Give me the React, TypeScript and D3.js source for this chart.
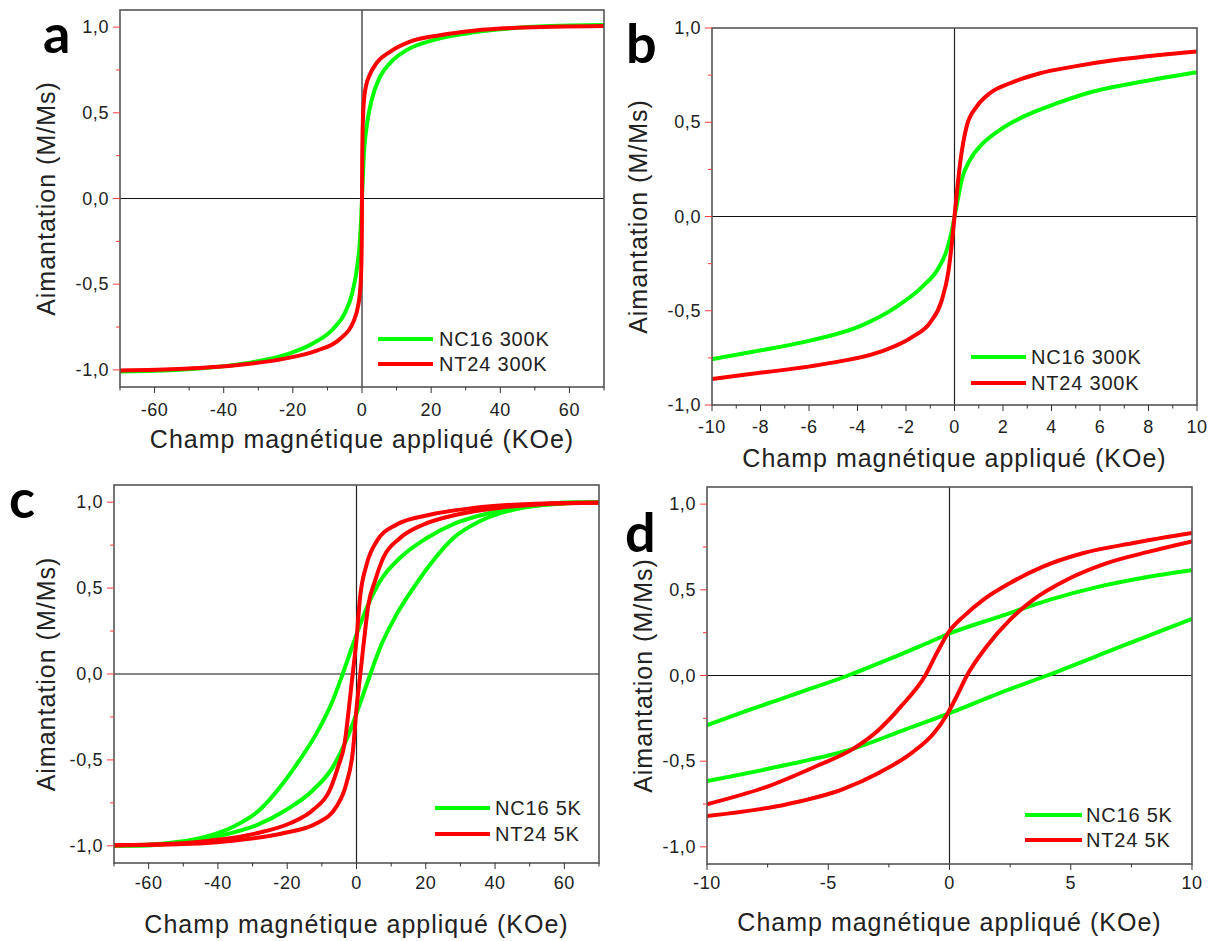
import React from 'react';
import * as d3 from 'd3';

type Pt = [number, number];

// ---------- DATA (H in KOe, M/Ms) ----------
// Panel a : 300K, full range
const aNC16: Pt[] = [
  [-70, -1.01], [-57.5, -1.004], [-44, -0.986], [-32.4, -0.958], [-21.8, -0.91], [-14.1, -0.845],
  [-8.3, -0.76], [-5.0, -0.67], [-2.8, -0.55], [-1.4, -0.4], [-0.58, -0.24], [-0.2, -0.1], [0, 0],
  [0.2, 0.1], [0.5, 0.24], [1.35, 0.42], [2.8, 0.575], [5.2, 0.71], [8.1, 0.79],
  [12.9, 0.866], [20.6, 0.924], [30.3, 0.963], [39.9, 0.987], [54.4, 1.006], [70, 1.012],
];
const aNT24: Pt[] = [
  [-70, -1.004], [-51.7, -0.994], [-37.2, -0.975], [-22.8, -0.936], [-13.1, -0.888], [-6.4, -0.82],
  [-2.5, -0.72], [-1.07, -0.62], [-0.6, -0.55], [-0.25, -0.43], [-0.05, -0.2], [0, 0], [0.05, 0.2],
  [0.25, 0.45], [0.6, 0.58], [1.2, 0.66], [2.2, 0.72], [4.2, 0.79], [8.1, 0.856], [13.9, 0.915],
  [22.6, 0.953], [32.2, 0.979], [44.7, 0.996], [70, 1.006],
];

// Panel b : 300K, zoom -10..10
const bNC16: Pt[] = [
  [-10, -0.757], [-8.42, -0.72], [-6.0, -0.66], [-3.87, -0.58], [-2.35, -0.475], [-1.3, -0.369],
  [-0.69, -0.28], [-0.31, -0.175], [-0.1, -0.07], [0, 0], [0.1, 0.065], [0.3, 0.196], [0.64, 0.3],
  [1.19, 0.39], [1.88, 0.46], [2.84, 0.53], [4.21, 0.6], [5.72, 0.663], [7.37, 0.707], [8.75, 0.739],
  [10, 0.766],
];
const bNT24: Pt[] = [
  [-10, -0.862], [-8.43, -0.836], [-5.39, -0.783], [-3.11, -0.72], [-1.75, -0.64], [-0.99, -0.56],
  [-0.54, -0.45], [-0.25, -0.29], [-0.1, -0.13], [0, 0], [0.1, 0.13], [0.25, 0.3], [0.5, 0.478],
  [0.92, 0.584], [1.46, 0.654], [2.29, 0.707], [3.53, 0.76], [4.9, 0.795], [6.69, 0.831],
  [8.47, 0.857], [10, 0.875],
];

// Panel c : 5K loops, full range (descending branch and ascending branch)
const cNC16Desc: Pt[] = [
  [-70, -1.0], [-54.8, -0.985], [-45.2, -0.956], [-35.6, -0.889], [-27.9, -0.79], [-21.2, -0.636],
  [-16.4, -0.5], [-11.5, -0.344], [-6.75, -0.15], [-4, 0], [-1.4, 0.15], [0, 0.23], [2.9, 0.383],
  [6.75, 0.539], [12.5, 0.675], [20.2, 0.79], [28.8, 0.879], [38.5, 0.937], [50, 0.976],
  [62.5, 0.999], [70, 1.0],
];
const cNC16Asc: Pt[] = [
  [-70, -1.0], [-62.5, -0.999], [-50, -0.976], [-38.5, -0.937], [-28.8, -0.879], [-20.2, -0.79],
  [-12.5, -0.675], [-6.75, -0.539], [-2.9, -0.383], [0, -0.23], [1.4, -0.15], [4, 0], [6.75, 0.15],
  [11.5, 0.344], [16.4, 0.5], [21.2, 0.636], [27.9, 0.79], [35.6, 0.889], [45.2, 0.956],
  [54.8, 0.985], [70, 1.0],
];
const cNT24Desc: Pt[] = [
  [-70, -0.997], [-54.8, -0.99], [-42.3, -0.97], [-28.8, -0.927], [-19.2, -0.869], [-12.5, -0.79],
  [-7.7, -0.675], [-5.3, -0.539], [-3.4, -0.4], [-2.2, -0.2], [-1.1, 0], [0, 0.2], [1.0, 0.441],
  [2.9, 0.636], [5.8, 0.772], [11.5, 0.869], [21.2, 0.927], [33.7, 0.966], [50, 0.99], [70, 0.998],
];
const cNT24Asc: Pt[] = [
  [-70, -0.998], [-50, -0.99], [-33.7, -0.966], [-21.2, -0.927], [-11.5, -0.869], [-5.8, -0.772],
  [-2.9, -0.636], [-1.0, -0.441], [0, -0.2], [1.1, 0], [2.2, 0.2], [3.4, 0.4], [5.3, 0.539],
  [7.7, 0.675], [12.5, 0.79], [19.2, 0.869], [28.8, 0.927], [42.3, 0.97], [54.8, 0.99], [70, 0.997],
];

// Panel d : 5K loops, zoom -10..10
const dNC16Desc: Pt[] = [
  [-10, -0.29], [-8.2, -0.198], [-6.2, -0.1], [-4.18, 0], [-2.04, 0.122], [-1.21, 0.171], [0, 0.245],
  [2.09, 0.345], [4.15, 0.443], [6.21, 0.52], [8.28, 0.578], [10, 0.615],
];
const dNC16Asc: Pt[] = [
  [-10, -0.616], [-7, -0.53], [-3.96, -0.427], [-2.0, -0.325], [0, -0.22], [2.09, -0.101], [4.02, 0],
  [7, 0.165], [10, 0.33],
];
const dNT24Desc: Pt[] = [
  [-10, -0.751], [-7.45, -0.645], [-5.48, -0.528], [-3.96, -0.427], [-2.9, -0.315], [-1.99, -0.179],
  [-1.0, 0], [-0.52, 0.132], [0, 0.26], [0.58, 0.345], [1.4, 0.443], [2.5, 0.54], [3.88, 0.637],
  [5.53, 0.715], [7.59, 0.773], [10, 0.831],
];
const dNT24Asc: Pt[] = [
  [-10, -0.82], [-6.7, -0.751], [-4.42, -0.664], [-2.9, -0.567], [-1.54, -0.45], [-0.63, -0.334],
  [-0.1, -0.227], [0.3, -0.12], [0.72, 0], [1.54, 0.171], [2.5, 0.326], [3.46, 0.443], [4.84, 0.559],
  [6.49, 0.656], [8.28, 0.724], [10, 0.782],
];

// Ticks and labels
const yMajor = [-1, -0.5, 0, 0.5, 1];
const yMinor = [-0.75, -0.25, 0.25, 0.75];
const xMajorWide = [-60, -40, -20, 0, 20, 40, 60];
const xMinorWide = [-70, -50, -30, -10, 10, 30, 50, 70];
const xMajorB = [-10, -8, -6, -4, -2, 0, 2, 4, 6, 8, 10];
const xMinorB = [-9, -7, -5, -3, -1, 1, 3, 5, 7, 9];
const xMajorD = [-10, -5, 0, 5, 10];
const xMinorD = [-7.5, -2.5, 2.5, 7.5];
const legend300 = ['NC16 300K', 'NT24 300K'];
const legend5 = ['NC16 5K', 'NT24 5K'];
const xTitle = 'Champ magnétique appliqué (KOe)';
const yTitle = 'Aimantation (M/Ms)';
const GREEN = '#00ff00';
const RED = '#ff0000';

type Layout = {
  left: number; right: number; top: number; bottom: number;
  xLabelY: number; xTitleY: number; yTitleX: number;
  letterX: number; letterY: number;
  lx1: number; lx2: number; ly1: number; ly2: number; ltx: number;
};

type PanelProps = {
  id: string;
  letter: string;
  lay: Layout;
  xDomain: [number, number];
  yDomain: [number, number];
  xMajor: number[];
  xMinor: number[];
  green: Pt[][];
  red: Pt[][];
  legend: string[];
};

const FONT = '"Liberation Sans", Arial, sans-serif';

function Panel({ id, letter, lay, xDomain, yDomain, xMajor, xMinor, green, red, legend }: PanelProps) {
  const x = d3.scaleLinear().domain(xDomain).range([lay.left, lay.right]);
  const y = d3.scaleLinear().domain(yDomain).range([lay.bottom, lay.top]);
  const line = d3.line<Pt>().x((d) => x(d[0])).y((d) => y(d[1])).curve(d3.curveMonotoneX);
  const cx = (lay.left + lay.right) / 2;
  const cy = (lay.top + lay.bottom) / 2;
  const clip = `clip-${id}`;
  return (
    <g>
      <defs>
        <clipPath id={clip}>
          <rect x={lay.left} y={lay.top} width={lay.right - lay.left} height={lay.bottom - lay.top} />
        </clipPath>
      </defs>
      {/* zero lines */}
      <line x1={x(0)} x2={x(0)} y1={lay.top} y2={lay.bottom} stroke="#222" strokeWidth={1.2} />
      <line x1={lay.left} x2={lay.right} y1={y(0)} y2={y(0)} stroke="#111" strokeWidth={1.2} />
      {/* curves */}
      <g clipPath={`url(#${clip})`}>
        {green.map((s, i) => (
          <path key={'g' + i} d={line(s) || ''} fill="none" stroke={GREEN} strokeWidth={4} strokeLinejoin="round" />
        ))}
        {red.map((s, i) => (
          <path key={'r' + i} d={line(s) || ''} fill="none" stroke={RED} strokeWidth={4} strokeLinejoin="round" />
        ))}
      </g>
      {/* frame */}
      <rect x={lay.left} y={lay.top} width={lay.right - lay.left} height={lay.bottom - lay.top}
        fill="none" stroke="#555" strokeWidth={1.6} />
      {/* y ticks */}
      {yMajor.map((v) => (
        <line key={'ym' + v} x1={lay.left - 7} x2={lay.left} y1={y(v)} y2={y(v)} stroke="#ff3b3b" strokeWidth={1} />
      ))}
      {yMinor.map((v) => (
        <line key={'yn' + v} x1={lay.left - 4} x2={lay.left} y1={y(v)} y2={y(v)} stroke="#ff3b3b" strokeWidth={1} />
      ))}
      {yMajor.map((v) => (
        <text key={'yl' + v} x={lay.left - 11} y={y(v)} textAnchor="end" dominantBaseline="central"
          fontFamily={FONT} fontSize={18} fill="#222" letterSpacing={0.6}>
          {v.toFixed(1).replace('.', ',')}
        </text>
      ))}
      {/* x ticks */}
      {xMajor.map((v) => (
        <line key={'xm' + v} x1={x(v)} x2={x(v)} y1={lay.bottom} y2={lay.bottom + 6} stroke="#333" strokeWidth={1} />
      ))}
      {xMinor.map((v) => (
        <line key={'xn' + v} x1={x(v)} x2={x(v)} y1={lay.bottom} y2={lay.bottom + 3.5} stroke="#333" strokeWidth={1} />
      ))}
      {xMajor.map((v) => (
        <text key={'xl' + v} x={x(v)} y={lay.xLabelY} textAnchor="middle" dominantBaseline="central"
          fontFamily={FONT} fontSize={18} fill="#222" letterSpacing={0.6}>
          {String(v)}
        </text>
      ))}
      {/* titles */}
      <text x={cx} y={lay.xTitleY} textAnchor="middle" fontFamily={FONT} fontSize={25} fill="#222" letterSpacing={1}>
        {xTitle}
      </text>
      <text transform={`translate(${lay.yTitleX},${cy}) rotate(-90)`} textAnchor="middle"
        fontFamily={FONT} fontSize={25} fill="#222" letterSpacing={1}>
        {yTitle}
      </text>
      {/* legend */}
      <line x1={lay.lx1} x2={lay.lx2} y1={lay.ly1} y2={lay.ly1} stroke={GREEN} strokeWidth={4} />
      <line x1={lay.lx1} x2={lay.lx2} y1={lay.ly2} y2={lay.ly2} stroke={RED} strokeWidth={4} />
      <text x={lay.ltx} y={lay.ly1} dominantBaseline="central" fontFamily={FONT} fontSize={20} fill="#222" letterSpacing={0.8}>
        {legend[0]}
      </text>
      <text x={lay.ltx} y={lay.ly2} dominantBaseline="central" fontFamily={FONT} fontSize={20} fill="#222" letterSpacing={0.8}>
        {legend[1]}
      </text>
      {/* panel letter */}
      <text x={lay.letterX} y={lay.letterY} fontFamily='Lato, "Open Sans", sans-serif' fontWeight={700} fontSize={54} fill="#000">
        {letter}
      </text>
    </g>
  );
}

const layA: Layout = { left: 120, right: 604, top: 10, bottom: 387, xLabelY: 410, xTitleY: 448, yTitleX: 55, letterX: 43, letterY: 53, lx1: 378, lx2: 433, ly1: 339, ly2: 364, ltx: 439 };
const layB: Layout = { left: 712, right: 1197, top: 28, bottom: 405, xLabelY: 427, xTitleY: 467, yTitleX: 647, letterX: 626, letterY: 63, lx1: 971, lx2: 1026, ly1: 357, ly2: 383, ltx: 1031 };
const layC: Layout = { left: 114, right: 599, top: 485, bottom: 863, xLabelY: 883, xTitleY: 933, yTitleX: 55, letterX: 9, letterY: 518, lx1: 435, lx2: 490, ly1: 808, ly2: 834, ltx: 495 };
const layD: Layout = { left: 707, right: 1192, top: 487, bottom: 864, xLabelY: 883, xTitleY: 931, yTitleX: 652, letterX: 625, letterY: 552, lx1: 1025, lx2: 1082, ly1: 815, ly2: 840, ltx: 1086 };

export default function App() {
  return (
    <svg width={1217} height={941} viewBox="0 0 1217 941"
      style={{ position: 'absolute', left: 0, top: 0, background: '#fff' }}>
      <rect x={0} y={0} width={1217} height={941} fill="#fff" />
      <Panel id="a" letter="a" lay={layA} xDomain={[-70, 70]} yDomain={[-1.1, 1.1]}
        xMajor={xMajorWide} xMinor={xMinorWide} green={[aNC16]} red={[aNT24]} legend={legend300} />
      <Panel id="b" letter="b" lay={layB} xDomain={[-10, 10]} yDomain={[-1, 1]}
        xMajor={xMajorB} xMinor={xMinorB} green={[bNC16]} red={[bNT24]} legend={legend300} />
      <Panel id="c" letter="c" lay={layC} xDomain={[-70, 70]} yDomain={[-1.1, 1.1]}
        xMajor={xMajorWide} xMinor={xMinorWide} green={[cNC16Desc, cNC16Asc]} red={[cNT24Desc, cNT24Asc]} legend={legend5} />
      <Panel id="d" letter="d" lay={layD} xDomain={[-10, 10]} yDomain={[-1.1, 1.1]}
        xMajor={xMajorD} xMinor={xMinorD} green={[dNC16Desc, dNC16Asc]} red={[dNT24Desc, dNT24Asc]} legend={legend5} />
    </svg>
  );
}
